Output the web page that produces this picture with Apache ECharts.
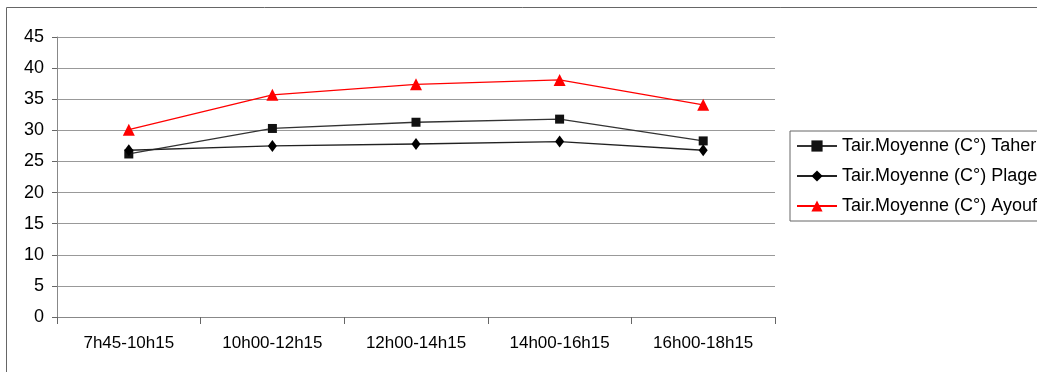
<!DOCTYPE html>
<html>
<head>
<meta charset="utf-8">
<script src="https://cdn.jsdelivr.net/npm/echarts@6/dist/echarts.min.js"></script>
<style>
html,body{margin:0;padding:0;background:#fff;}
#c{width:1037px;height:372px;}
</style>
</head>
<body>
<div id="c"></div>
<script>
const categories = ['7h45-10h15', '10h00-12h15', '12h00-14h15', '14h00-16h15', '16h00-18h15'];
const seriesNames = ['Tair.Moyenne (C°) Taher', 'Tair.Moyenne (C°) Plage', 'Tair.Moyenne (C°) Ayouf'];
const taher = [26.2, 30.3, 31.3, 31.8, 28.3];
const plage = [26.8, 27.5, 27.8, 28.2, 26.8];
const ayouf = [30.1, 35.7, 37.4, 38.1, 34.1];

const chart = echarts.init(document.getElementById('c'), null, {renderer: 'canvas'});
const font = 'Liberation Sans, Arial, sans-serif';
chart.setOption({
  animation: false,
  backgroundColor: '#fff',
  graphic: [{
    type: 'rect', silent: true, z: -1,
    shape: {x: 6.5, y: 7.5, width: 1200, height: 500},
    style: {fill: 'none', stroke: '#666', lineWidth: 1}
  }],
  grid: {left: 57, top: 37, width: 718, height: 280, containLabel: false},
  legend: {
    orient: 'vertical',
    left: 790, top: 131,
    padding: [6, 30, 6, 6],
    itemGap: 12,
    itemWidth: 40, itemHeight: 14,
    borderColor: '#666', borderWidth: 1,
    textStyle: {fontFamily: font, fontSize: 18, color: '#000'},
    data: seriesNames
  },
  xAxis: {
    type: 'category',
    data: categories,
    boundaryGap: true,
    axisLine: {lineStyle: {color: '#888', width: 1}},
    axisTick: {show: true, length: 7, lineStyle: {color: '#666'}},
    axisLabel: {fontFamily: font, fontSize: 17, color: '#000', margin: 18}
  },
  yAxis: {
    type: 'value',
    min: 0, max: 45, interval: 5,
    axisLine: {show: true, lineStyle: {color: '#888'}},
    axisTick: {show: true, length: 5, lineStyle: {color: '#666'}},
    axisLabel: {fontFamily: font, fontSize: 18, color: '#000', margin: 13},
    splitLine: {lineStyle: {color: '#999', width: 1.2}}
  },
  series: [
    {
      name: seriesNames[0], type: 'line', data: taher,
      symbol: 'rect', symbolSize: 9,
      itemStyle: {color: '#111'},
      lineStyle: {color: '#333', width: 1.3}
    },
    {
      name: seriesNames[1], type: 'line', data: plage,
      symbol: 'diamond', symbolSize: [9, 12],
      itemStyle: {color: '#000'},
      lineStyle: {color: '#222', width: 1.3}
    },
    {
      name: seriesNames[2], type: 'line', data: ayouf,
      symbol: 'triangle', symbolSize: 12,
      itemStyle: {color: '#ff0000'},
      lineStyle: {color: '#ff0000', width: 1.3}
    }
  ]
});
</script>
</body>
</html>
